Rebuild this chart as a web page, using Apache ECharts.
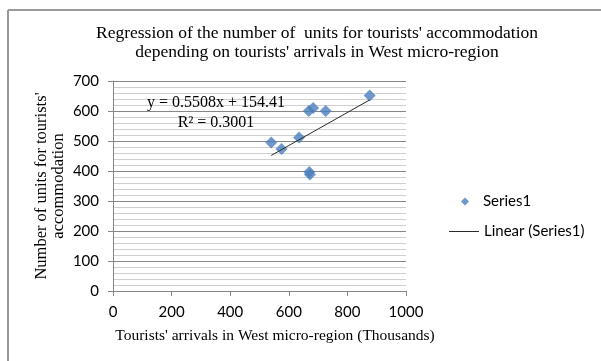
<!DOCTYPE html>
<html>
<head>
<meta charset="utf-8">
<script src="https://cdn.jsdelivr.net/npm/echarts@6/dist/echarts.min.js"></script>
<style>
  html, body { margin: 0; padding: 0; background: #fff; }
  #chart { width: 601px; height: 361px; }
</style>
</head>
<body>
<div id="chart"></div>
<script>
// Tourists' arrivals (thousands) and units for accommodation, West micro-region
const arrivals = [540, 575, 635, 668, 683, 726, 670, 672, 876];
const units    = [495, 473, 512, 600, 610, 600, 397, 388, 652];

// Linear trendline coefficients and fit quality
const trendSlope = 0.5508;
const trendIntercept = 154.41;
const rSquared = 0.3001;

// Axis ranges
const xTicks = { min: 0, max: 1000, interval: 200 };
const yTicks = { min: 0, max: 700, interval: 100 };

const titleLines = [
  "Regression of the number of  units for tourists' accommodation",
  "depending on tourists' arrivals in West micro-region"
];
const yTitleLines = ["Number of units for tourists'", "accommodation"];
const xTitle = "Tourists' arrivals in West micro-region (Thousands)";

const points = arrivals.map((x, i) => [x, units[i]]);
const xLo = Math.min(...arrivals), xHi = Math.max(...arrivals);
const trend = [xLo, xHi].map(x => [x, trendSlope * x + trendIntercept]);

const serif = "'Liberation Serif', 'Times New Roman', serif";
const sans = "Lato, 'Open Sans', sans-serif";
const gridColor = '#868686';
const trendColor = '#2b2b2b';

const chart = echarts.init(document.getElementById('chart'), null, { renderer: 'canvas' });

chart.setOption({
  animation: false,
  backgroundColor: '#fff',
  grid: { left: 113, right: 195, top: 81, bottom: 70 },
  xAxis: {
    type: 'value',
    min: xTicks.min, max: xTicks.max, interval: xTicks.interval,
    axisLine: { show: true, onZero: false, lineStyle: { color: gridColor, width: 1 } },
    axisTick: { show: true, length: 5, lineStyle: { color: gridColor } },
    axisLabel: { color: '#000', fontFamily: sans, fontSize: 15, margin: 14, formatter: v => String(v) },
    splitLine: { show: false }
  },
  yAxis: {
    type: 'value',
    min: yTicks.min, max: yTicks.max, interval: yTicks.interval,
    axisLine: { show: true, lineStyle: { color: gridColor, width: 1 } },
    axisTick: { show: true, length: 5, lineStyle: { color: gridColor } },
    axisLabel: { color: '#000', fontFamily: sans, fontSize: 15, margin: 14, formatter: v => String(v) },
    splitLine: { show: true, lineStyle: { color: gridColor, width: 1 } },
    minorTick: { show: false, splitNumber: 5 },
    minorSplitLine: { show: true, lineStyle: { color: '#cfcfcf', width: 1 } }
  },
  legend: [
    {
      data: ['Series1'],
      left: 461, top: 194,
      padding: 0,
      itemWidth: 8, itemHeight: 8,
      textStyle: { color: '#000', fontFamily: sans, fontSize: 15, padding: [0, 0, 0, 9] }
    },
    {
      data: [{ name: 'Linear (Series1)', icon: 'rect' }],
      left: 449, top: 224,
      padding: 0,
      itemWidth: 30, itemHeight: 1,
      textStyle: { color: '#000', fontFamily: sans, fontSize: 15 }
    }
  ],
  series: [
    {
      name: 'Series1',
      type: 'scatter',
      symbol: 'diamond',
      symbolSize: 12,
      data: points,
      itemStyle: { color: '#4a7ebb' },
      z: 3
    },
    {
      name: 'Linear (Series1)',
      type: 'line',
      data: trend,
      symbol: 'none',
      lineStyle: { color: trendColor, width: 1 },
      itemStyle: { color: trendColor },
      z: 4
    }
  ],
  graphic: [
    // chart frame (top and left edges)
    { type: 'line', shape: { x1: 8, y1: 10, x2: 601, y2: 10 }, style: { stroke: '#999', lineWidth: 2 } },
    { type: 'line', shape: { x1: 8, y1: 10, x2: 8, y2: 361 }, style: { stroke: '#999', lineWidth: 2 } },
    // title
    { type: 'text', x: 317, y: 33, style: { text: titleLines[0], fontFamily: serif, fontSize: 17.5, fill: '#000', align: 'center', verticalAlign: 'middle' } },
    { type: 'text', x: 317, y: 52, style: { text: titleLines[1], fontFamily: serif, fontSize: 17.5, fill: '#000', align: 'center', verticalAlign: 'middle' } },
    // y axis title
    { type: 'text', x: 42, y: 186, rotation: Math.PI / 2, style: { text: yTitleLines[0], fontFamily: serif, fontSize: 16.5, fill: '#000', align: 'center', verticalAlign: 'middle' } },
    { type: 'text', x: 59, y: 186, rotation: Math.PI / 2, style: { text: yTitleLines[1], fontFamily: serif, fontSize: 16.5, fill: '#000', align: 'center', verticalAlign: 'middle' } },
    // x axis title
    { type: 'text', x: 275, y: 336, style: { text: xTitle, fontFamily: serif, fontSize: 15.5, fill: '#000', align: 'center', verticalAlign: 'middle' } },
    // trendline equation
    { type: 'text', x: 216, y: 103, z: 10, style: { text: 'y = ' + trendSlope + 'x + ' + trendIntercept, fontFamily: serif, fontSize: 16, fill: '#000', align: 'center', verticalAlign: 'middle' } },
    { type: 'text', x: 216, y: 123, z: 10, style: { text: 'R\u00b2 = ' + rSquared, fontFamily: serif, fontSize: 16, fill: '#000', align: 'center', verticalAlign: 'middle' } }
  ]
});
</script>
</body>
</html>
